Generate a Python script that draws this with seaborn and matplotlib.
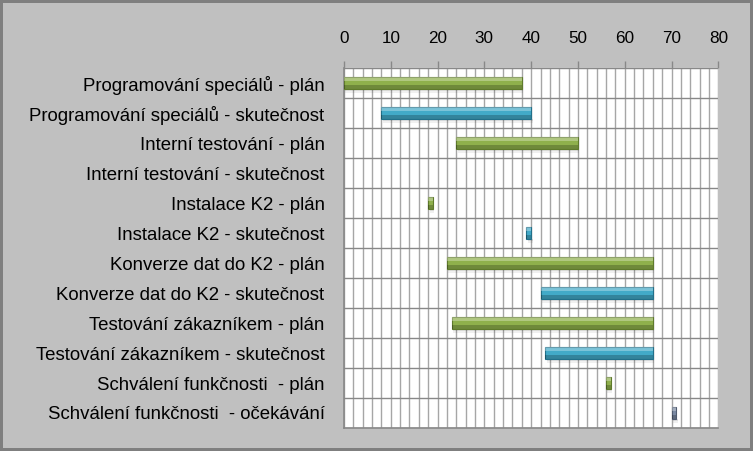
import pandas as pd
import seaborn as sns
from matplotlib import pyplot as plt
from matplotlib import ticker
from matplotlib.patches import Rectangle

tasks = [
    "Programování speciálů - plán",
    "Programování speciálů - skutečnost",
    "Interní testování - plán",
    "Interní testování - skutečnost",
    "Instalace K2 - plán",
    "Instalace K2 - skutečnost",
    "Konverze dat do K2 - plán",
    "Konverze dat do K2 - skutečnost",
    "Testování zákazníkem - plán",
    "Testování zákazníkem - skutečnost",
    "Schválení funkčnosti  - plán",
    "Schválení funkčnosti  - očekávání",
]
starts = [0, 8, 24, 0, 18, 39, 22, 42, 23, 43, 56, 70]
durations = [38, 32, 26, 0, 1, 1, 44, 24, 43, 23, 1, 1]
kinds = ["plán", "skutečnost", "plán", "skutečnost", "plán", "skutečnost",
         "plán", "skutečnost", "plán", "skutečnost", "plán", "očekávání"]
x_ticks = [0, 10, 20, 30, 40, 50, 60, 70, 80]

kind_colors = {"plán": "#8fb04c", "skutečnost": "#42aac8", "očekávání": "#7b8aa3"}
kind_edges = {"plán": "#5f7a2c", "skutečnost": "#22708a", "očekávání": "#505c70"}

df = pd.DataFrame({"task": tasks, "start": starts, "duration": durations, "kind": kinds})

sns.set_theme(style="white")
plt.rcParams["font.family"] = ["Liberation Sans", "DejaVu Sans"]

fig = plt.figure(figsize=(7.53, 4.51), dpi=100, facecolor="#c0c0c0")
fig.patch.set_edgecolor("#7f7f7f")
fig.patch.set_linewidth(3)
ax = fig.add_axes([0.4568, 0.051, 0.4972, 0.7982])
ax.set_facecolor("white")

sns.barplot(
    data=df, x="duration", y="task", hue="task",
    palette=[kind_colors[k] for k in kinds], legend=False,
    width=0.4, saturation=1, ax=ax, zorder=3,
)

# shift bars to start values (stacked gantt style) and add a bevel look
for bar, s, k in zip(ax.patches[:len(tasks)], starts, kinds):
    bar.set_x(s)
    if bar.get_width() <= 0:
        bar.set_visible(False)
        continue
    bar.set_edgecolor(kind_edges[k])
    bar.set_linewidth(0.8)
    x0, y0, w, h = bar.get_x(), bar.get_y(), bar.get_width(), bar.get_height()
    ax.add_patch(Rectangle((x0, y0), w, h * 0.3, facecolor="white",
                           alpha=0.3, lw=0, zorder=4))
    ax.add_patch(Rectangle((x0, y0 + h * 0.7), w, h * 0.3, facecolor="black",
                           alpha=0.22, lw=0, zorder=4))
    ax.add_patch(Rectangle((x0 + 0.3, y0 + h * 1.0), w, h * 0.15, facecolor="black",
                           alpha=0.13, lw=0, zorder=2))
    ax.add_patch(Rectangle((x0 + 0.3, y0 + h * 1.15), w, h * 0.15, facecolor="black",
                           alpha=0.06, lw=0, zorder=2))

ax.set_xlim(0, 80)
ax.set_ylim(len(tasks) - 0.5, -0.5)
ax.xaxis.tick_top()
ax.set_xticks(x_ticks)
ax.xaxis.set_minor_locator(ticker.MultipleLocator(2))
ax.tick_params(axis="x", which="major", direction="out", length=5, width=1,
               color="#888888", pad=11, labelsize=12.3, labelcolor="black")
ax.tick_params(axis="x", which="minor", length=0)
ax.grid(axis="x", which="both", color="#a6a6a6", lw=1, zorder=0)

ax.set_yticks(range(len(tasks)))
ax.set_yticklabels(tasks)
ax.yaxis.set_minor_locator(ticker.FixedLocator([i - 0.5 for i in range(len(tasks) + 1)]))
ax.tick_params(axis="y", which="major", length=0, pad=14, labelsize=13.4, labelcolor="black")
ax.tick_params(axis="y", which="minor", direction="out", length=6, width=1, color="#888888")
ax.grid(axis="y", which="minor", color="#888888", lw=1, zorder=1)
ax.set_axisbelow(True)

ax.set_xlabel("")
ax.set_ylabel("")
for side in ["top", "right"]:
    ax.spines[side].set_visible(False)
for side in ["left", "bottom"]:
    ax.spines[side].set_color("#888888")
    ax.spines[side].set_linewidth(1.2)

fig.savefig("out.png", dpi=100, facecolor=fig.get_facecolor(), edgecolor=fig.get_edgecolor())
